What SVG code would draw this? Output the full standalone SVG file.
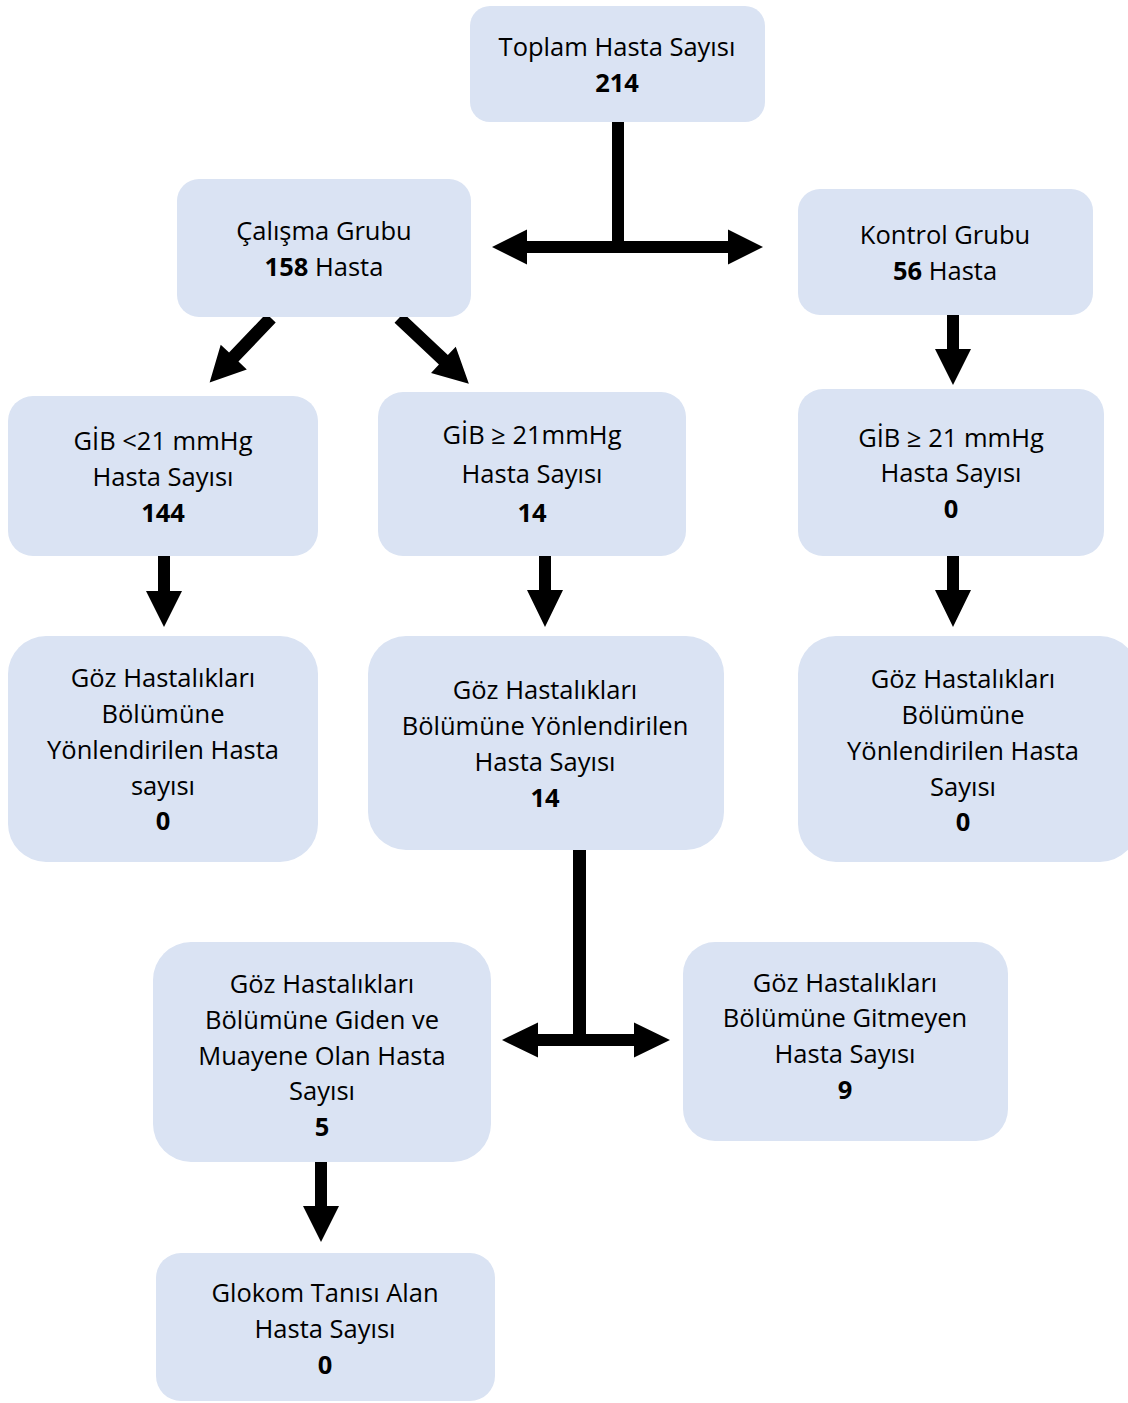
<svg xmlns="http://www.w3.org/2000/svg" width="1128" height="1403" viewBox="0 0 1128 1403">
<style>
.box{fill:#DAE3F3;}
.t{font-family:"Open Sans","Liberation Sans",sans-serif;font-size:25.5px;fill:#000;text-anchor:middle;dominant-baseline:central;}
.b{font-weight:bold;}
.arr{fill:#000;}
</style>
<rect width="1128" height="1403" fill="#fff"/>
<g id="connectors">
<rect class="arr" x="612" y="122" width="12" height="128"/>
<polygon class="arr" points="492,247 527,229.5 527,241 728,241 728,229.5 763,247 728,264.5 728,253 527,253 527,264.5"/>
<polygon class="arr" transform="translate(271,318) rotate(133.6)" points="0,-6.5 54,-6.5 54,-18 89,0 54,18 54,6.5 0,6.5"/>
<polygon class="arr" transform="translate(399,318) rotate(43.3)" points="0,-6.5 61,-6.5 61,-18 96,0 61,18 61,6.5 0,6.5"/>
<polygon class="arr" points="947,315 959,315 959,349 971,349 953,385 935,349 947,349"/>
<polygon class="arr" points="158,556 170,556 170,591 182,591 164,627 146,591 158,591"/>
<polygon class="arr" points="539,556 551,556 551,590 563,590 545,627 527,590 539,590"/>
<polygon class="arr" points="947,556 959,556 959,590 971,590 953,627 935,590 947,590"/>
<polygon class="arr" points="315,1162 327,1162 327,1206 339,1206 321,1242 303,1206 315,1206"/>
<rect class="arr" x="573" y="850" width="13" height="190"/>
<polygon class="arr" points="502,1040 538,1022.5 538,1034 634,1034 634,1022.5 670,1040 634,1057.5 634,1046 538,1046 538,1057.5"/>
</g>
<g id="n-toplam">
<rect class="box" x="470" y="6" width="295" height="116" rx="20"/>
<text class="t" x="617" y="46">Toplam Hasta Sayısı</text>
<text class="t b" x="617" y="82">214</text>
</g>
<g id="n-calisma">
<rect class="box" x="177" y="179" width="294" height="138" rx="22"/>
<text class="t" x="324" y="230">Çalışma Grubu</text>
<text class="t" x="324" y="266"><tspan class="b">158</tspan> Hasta</text>
</g>
<g id="n-kontrol">
<rect class="box" x="798" y="189" width="295" height="126" rx="22"/>
<text class="t" x="945" y="234">Kontrol Grubu</text>
<text class="t" x="945" y="270"><tspan class="b">56</tspan> Hasta</text>
</g>
<g id="n-gib-low">
<rect class="box" x="8" y="396" width="310" height="160" rx="25"/>
<text class="t" x="163" y="440">GİB &lt;21 mmHg</text>
<text class="t" x="163" y="476">Hasta Sayısı</text>
<text class="t b" x="163" y="512">144</text>
</g>
<g id="n-gib-high">
<rect class="box" x="378" y="392" width="308" height="164" rx="25"/>
<text class="t" x="532" y="434">GİB ≥ 21mmHg</text>
<text class="t" x="532" y="473">Hasta Sayısı</text>
<text class="t b" x="532" y="512">14</text>
</g>
<g id="n-gib-control">
<rect class="box" x="798" y="389" width="306" height="167" rx="25"/>
<text class="t" x="951" y="437">GİB ≥ 21 mmHg</text>
<text class="t" x="951" y="472">Hasta Sayısı</text>
<text class="t b" x="951" y="508">0</text>
</g>
<g id="n-goz-low">
<rect class="box" x="8" y="636" width="310" height="226" rx="38"/>
<text class="t" x="163" y="677">Göz Hastalıkları</text>
<text class="t" x="163" y="713">Bölümüne</text>
<text class="t" x="163" y="749">Yönlendirilen Hasta</text>
<text class="t" x="163" y="785">sayısı</text>
<text class="t b" x="163" y="820">0</text>
</g>
<g id="n-goz-high">
<rect class="box" x="368" y="636" width="356" height="214" rx="38"/>
<text class="t" x="545" y="689">Göz Hastalıkları</text>
<text class="t" x="545" y="725">Bölümüne Yönlendirilen</text>
<text class="t" x="545" y="761">Hasta Sayısı</text>
<text class="t b" x="545" y="797">14</text>
</g>
<g id="n-goz-control">
<rect class="box" x="798" y="636" width="340" height="226" rx="38"/>
<text class="t" x="963" y="678">Göz Hastalıkları</text>
<text class="t" x="963" y="714">Bölümüne</text>
<text class="t" x="963" y="750">Yönlendirilen Hasta</text>
<text class="t" x="963" y="786">Sayısı</text>
<text class="t b" x="963" y="821">0</text>
</g>
<g id="n-giden">
<rect class="box" x="153" y="942" width="338" height="220" rx="38"/>
<text class="t" x="322" y="983">Göz Hastalıkları</text>
<text class="t" x="322" y="1019">Bölümüne Giden ve</text>
<text class="t" x="322" y="1055">Muayene Olan Hasta</text>
<text class="t" x="322" y="1090">Sayısı</text>
<text class="t b" x="322" y="1126">5</text>
</g>
<g id="n-gitmeyen">
<rect class="box" x="683" y="942" width="325" height="199" rx="32"/>
<text class="t" x="845" y="982">Göz Hastalıkları</text>
<text class="t" x="845" y="1017">Bölümüne Gitmeyen</text>
<text class="t" x="845" y="1053">Hasta Sayısı</text>
<text class="t b" x="845" y="1089">9</text>
</g>
<g id="n-glokom">
<rect class="box" x="156" y="1253" width="339" height="148" rx="25"/>
<text class="t" x="325" y="1292">Glokom Tanısı Alan</text>
<text class="t" x="325" y="1328">Hasta Sayısı</text>
<text class="t b" x="325" y="1364">0</text>
</g>
</svg>
